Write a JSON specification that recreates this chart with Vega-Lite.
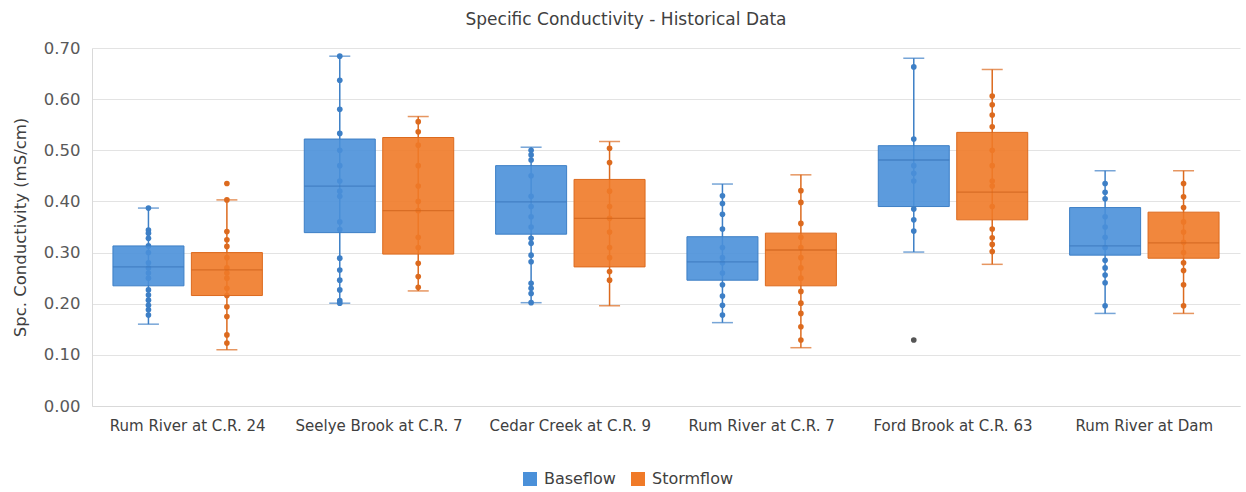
{
  "$schema": "https://vega.github.io/schema/vega-lite/v6.json",
  "width": 1148,
  "height": 358,
  "autosize": "none",
  "padding": {"left": 92, "top": 48, "right": 6, "bottom": 86},
  "background": "white",
  "title": {
    "text": "Specific Conductivity - Historical Data",
    "font": "DejaVu Sans",
    "fontSize": 17,
    "fontWeight": "normal",
    "color": "#404040",
    "anchor": "middle",
    "dx": -40,
    "offset": 11
  },
  "datasets": {
    "stats": [
      {"site": "Rum River at C.R. 24", "flow": "Baseflow", "min": 0.160, "q1": 0.235, "median": 0.272, "q3": 0.313, "max": 0.387},
      {"site": "Rum River at C.R. 24", "flow": "Stormflow", "min": 0.110, "q1": 0.216, "median": 0.266, "q3": 0.300, "max": 0.403},
      {"site": "Seelye Brook at C.R. 7", "flow": "Baseflow", "min": 0.201, "q1": 0.339, "median": 0.430, "q3": 0.522, "max": 0.684},
      {"site": "Seelye Brook at C.R. 7", "flow": "Stormflow", "min": 0.225, "q1": 0.297, "median": 0.382, "q3": 0.525, "max": 0.566},
      {"site": "Cedar Creek at C.R. 9", "flow": "Baseflow", "min": 0.202, "q1": 0.336, "median": 0.399, "q3": 0.470, "max": 0.506},
      {"site": "Cedar Creek at C.R. 9", "flow": "Stormflow", "min": 0.196, "q1": 0.272, "median": 0.367, "q3": 0.443, "max": 0.517},
      {"site": "Rum River at C.R. 7", "flow": "Baseflow", "min": 0.163, "q1": 0.246, "median": 0.282, "q3": 0.331, "max": 0.434},
      {"site": "Rum River at C.R. 7", "flow": "Stormflow", "min": 0.114, "q1": 0.235, "median": 0.305, "q3": 0.338, "max": 0.452},
      {"site": "Ford Brook at C.R. 63", "flow": "Baseflow", "min": 0.301, "q1": 0.390, "median": 0.481, "q3": 0.509, "max": 0.680},
      {"site": "Ford Brook at C.R. 63", "flow": "Stormflow", "min": 0.277, "q1": 0.364, "median": 0.418, "q3": 0.535, "max": 0.658},
      {"site": "Rum River at Dam", "flow": "Baseflow", "min": 0.181, "q1": 0.295, "median": 0.313, "q3": 0.388, "max": 0.460},
      {"site": "Rum River at Dam", "flow": "Stormflow", "min": 0.181, "q1": 0.289, "median": 0.319, "q3": 0.379, "max": 0.460}
    ],
    "samples": [
      {"site": "Rum River at C.R. 24", "flow": "Baseflow", "values": [0.387, 0.344, 0.338, 0.328, 0.313, 0.300, 0.280, 0.270, 0.260, 0.250, 0.227, 0.217, 0.207, 0.197, 0.188, 0.178]},
      {"site": "Rum River at C.R. 24", "flow": "Stormflow", "values": [0.435, 0.403, 0.341, 0.325, 0.312, 0.290, 0.270, 0.260, 0.250, 0.230, 0.216, 0.194, 0.175, 0.139, 0.123]},
      {"site": "Seelye Brook at C.R. 7", "flow": "Baseflow", "values": [0.684, 0.637, 0.580, 0.533, 0.500, 0.470, 0.440, 0.420, 0.410, 0.360, 0.345, 0.289, 0.266, 0.246, 0.227, 0.206, 0.201]},
      {"site": "Seelye Brook at C.R. 7", "flow": "Stormflow", "values": [0.556, 0.536, 0.510, 0.470, 0.430, 0.400, 0.382, 0.330, 0.310, 0.279, 0.253, 0.232]},
      {"site": "Cedar Creek at C.R. 9", "flow": "Baseflow", "values": [0.500, 0.491, 0.481, 0.450, 0.410, 0.390, 0.370, 0.350, 0.328, 0.318, 0.295, 0.282, 0.240, 0.230, 0.220, 0.202]},
      {"site": "Cedar Creek at C.R. 9", "flow": "Stormflow", "values": [0.504, 0.476, 0.420, 0.390, 0.367, 0.340, 0.310, 0.290, 0.263, 0.246]},
      {"site": "Rum River at C.R. 7", "flow": "Baseflow", "values": [0.411, 0.396, 0.375, 0.346, 0.310, 0.290, 0.280, 0.260, 0.237, 0.215, 0.197, 0.178]},
      {"site": "Rum River at C.R. 7", "flow": "Stormflow", "values": [0.421, 0.398, 0.357, 0.330, 0.310, 0.290, 0.270, 0.250, 0.224, 0.201, 0.181, 0.155, 0.129]},
      {"site": "Ford Brook at C.R. 63", "flow": "Baseflow", "values": [0.663, 0.522, 0.470, 0.455, 0.440, 0.385, 0.364, 0.342]},
      {"site": "Ford Brook at C.R. 63", "flow": "Stormflow", "values": [0.606, 0.589, 0.569, 0.546, 0.500, 0.470, 0.440, 0.430, 0.390, 0.346, 0.329, 0.316, 0.302]},
      {"site": "Rum River at Dam", "flow": "Baseflow", "values": [0.435, 0.418, 0.405, 0.370, 0.350, 0.330, 0.310, 0.285, 0.270, 0.256, 0.241, 0.196]},
      {"site": "Rum River at Dam", "flow": "Stormflow", "values": [0.435, 0.409, 0.388, 0.360, 0.340, 0.320, 0.300, 0.280, 0.265, 0.237, 0.196]}
    ],
    "outliers": [
      {"site": "Ford Brook at C.R. 63", "flow": "Baseflow", "value": 0.129}
    ]
  },
  "encoding": {
    "x": {
      "field": "site",
      "type": "nominal",
      "sort": ["Rum River at C.R. 24", "Seelye Brook at C.R. 7", "Cedar Creek at C.R. 9", "Rum River at C.R. 7", "Ford Brook at C.R. 63", "Rum River at Dam"],
      "scale": {"paddingInner": 0.18, "paddingOuter": 0.09},
      "title": null
    },
    "xOffset": {
      "field": "flow",
      "type": "nominal",
      "scale": {"domain": ["Baseflow", "Stormflow"], "paddingInner": 0, "paddingOuter": 0}
    }
  },
  "layer": [
    {
      "data": {"name": "stats"},
      "mark": {"type": "rule", "strokeWidth": 1.5},
      "encoding": {
        "y": {"field": "min", "type": "quantitative", "scale": {"domain": [0, 0.7]}, "title": "Spc. Conductivity (mS/cm)"},
        "y2": {"field": "max"},
        "color": {"condition": {"test": "datum.flow === 'Baseflow'", "value": "#3d7fc6"}, "value": "#dc6a1e"}
      }
    },
    {
      "data": {"name": "stats"},
      "mark": {"type": "tick", "size": 21, "thickness": 1.5},
      "encoding": {
        "y": {"field": "min", "type": "quantitative", "title": "Spc. Conductivity (mS/cm)"},
        "color": {"condition": {"test": "datum.flow === 'Baseflow'", "value": "#3d7fc6"}, "value": "#dc6a1e"}
      }
    },
    {
      "data": {"name": "stats"},
      "mark": {"type": "tick", "size": 21, "thickness": 1.5},
      "encoding": {
        "y": {"field": "max", "type": "quantitative", "title": "Spc. Conductivity (mS/cm)"},
        "color": {"condition": {"test": "datum.flow === 'Baseflow'", "value": "#3d7fc6"}, "value": "#dc6a1e"}
      }
    },
    {
      "data": {"name": "samples"},
      "transform": [{"flatten": ["values"], "as": ["value"]}],
      "mark": {"type": "circle", "size": 32, "opacity": 1},
      "encoding": {
        "y": {"field": "value", "type": "quantitative", "title": "Spc. Conductivity (mS/cm)"},
        "color": {"condition": {"test": "datum.flow === 'Baseflow'", "value": "#3d7fc6"}, "value": "#dc6a1e"}
      }
    },
    {
      "data": {"name": "stats"},
      "mark": {"type": "bar", "size": 71, "fillOpacity": 0.9, "strokeWidth": 1},
      "encoding": {
        "y": {"field": "q1", "type": "quantitative", "title": "Spc. Conductivity (mS/cm)"},
        "y2": {"field": "q3"},
        "color": {
          "field": "flow",
          "type": "nominal",
          "scale": {"domain": ["Baseflow", "Stormflow"], "range": ["#4a90d9", "#f07a28"]},
          "legend": {
            "orient": "none",
            "legendX": 430,
            "legendY": 423,
            "direction": "horizontal",
            "title": null,
            "symbolType": "square",
            "symbolSize": 196,
            "symbolStrokeWidth": 0,
            "symbolOpacity": 1,
            "labelFont": "DejaVu Sans",
            "labelFontSize": 16,
            "labelColor": "#404040",
            "labelOffset": 6,
            "columnPadding": 14
          }
        },
        "stroke": {"condition": {"test": "datum.flow === 'Baseflow'", "value": "#3d7fc6"}, "value": "#dc6a1e"}
      }
    },
    {
      "data": {"name": "stats"},
      "mark": {"type": "tick", "size": 71, "thickness": 1.3},
      "encoding": {
        "y": {"field": "median", "type": "quantitative", "title": "Spc. Conductivity (mS/cm)"},
        "color": {"condition": {"test": "datum.flow === 'Baseflow'", "value": "#3a76ba"}, "value": "#cf631b"}
      }
    },
    {
      "data": {"name": "outliers"},
      "mark": {"type": "circle", "size": 32, "opacity": 1, "color": "#555555"},
      "encoding": {
        "y": {"field": "value", "type": "quantitative", "title": "Spc. Conductivity (mS/cm)"}
      }
    }
  ],
  "config": {
    "font": "DejaVu Sans",
    "view": {"stroke": null},
    "axisX": {
      "labelFont": "DejaVu Sans",
      "labelFontSize": 15,
      "labelColor": "#404040",
      "labelPadding": 12,
      "labelAngle": 0,
      "ticks": false,
      "domainColor": "#d9d9d9",
      "grid": false
    },
    "axisY": {
      "values": [0, 0.1, 0.2, 0.3, 0.4, 0.5, 0.6, 0.7],
      "format": ".2f",
      "labelFont": "DejaVu Sans",
      "labelFontSize": 16.5,
      "labelColor": "#595959",
      "labelPadding": 12,
      "ticks": false,
      "domainColor": "#d9d9d9",
      "gridColor": "#e3e3e3",
      "titleFont": "DejaVu Sans",
      "titleFontSize": 16.5,
      "titleFontWeight": "normal",
      "titleColor": "#404040",
      "titlePadding": 15
    }
  }
}
